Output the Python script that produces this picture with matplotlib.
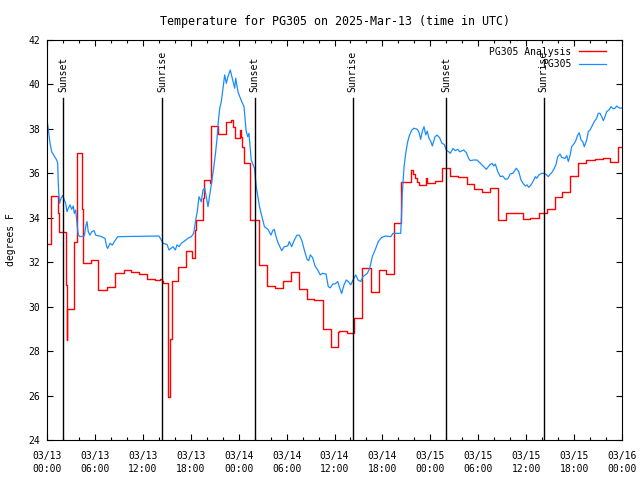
import matplotlib
matplotlib.use("Agg")
import matplotlib.pyplot as plt
import matplotlib.dates as mdates
import pandas as pd

start = pd.Timestamp("2025-03-13 00:00")

# observed station temperature, hours since start / degrees F
obs_hours = [0.0, 0.16, 0.38, 0.59, 0.88, 1.21, 1.34, 1.41, 1.50, 1.59, 1.75, 1.97, 2.17, 2.34, 2.50,
             2.67, 2.88, 3.09, 3.29, 3.42, 3.59, 3.72, 3.79, 3.92, 4.13, 4.67, 4.85, 5.01, 5.17, 5.38,
             5.60, 5.89, 6.10, 6.85, 7.26, 7.48, 7.60, 7.89, 8.18, 8.43, 8.85, 14.02, 14.31, 14.53,
             15.03, 15.28, 15.78, 16.07, 16.28, 16.53, 16.82, 17.24, 17.66, 18.07, 18.37, 18.62, 18.82,
             19.03, 19.32, 19.53, 19.75, 20.16, 20.37, 20.57, 20.87, 21.12, 21.29, 21.45, 21.63, 21.83,
             22.04, 22.25, 22.45, 22.66, 22.95, 23.20, 23.50, 23.63, 23.92, 24.08, 24.38, 24.67, 24.92,
             25.13, 25.29, 25.57, 25.98, 26.20, 26.41, 26.61, 26.91, 27.23, 27.66, 28.05, 28.26, 28.46,
             28.68, 28.96, 29.39, 29.71, 30.14, 30.34, 30.64, 30.97, 31.31, 31.59, 31.89, 32.22, 32.56,
             32.77, 32.97, 33.27, 33.56, 33.90, 34.22, 34.52, 34.94, 35.22, 35.47, 35.78, 36.06, 36.40,
             36.81, 36.90, 37.19, 37.48, 37.73, 38.03, 38.32, 38.66, 38.94, 39.28, 39.57, 40.11, 40.41,
             40.73, 41.16, 41.48, 41.91, 42.41, 43.04, 43.33, 44.29, 44.42, 44.49, 44.71, 44.92, 45.12,
             45.33, 45.67, 45.96, 46.37, 46.58, 46.79, 46.99, 47.21, 47.42, 47.62, 47.83, 48.05, 48.25,
             48.59, 48.84, 49.17, 49.46, 49.75, 50.00, 50.30, 50.50, 50.84, 51.13, 51.43, 51.68, 52.18,
             52.50, 52.80, 53.00, 53.43, 53.84, 54.18, 54.47, 55.01, 55.43, 55.72, 55.94, 56.14, 56.44,
             56.76, 57.06, 57.39, 57.69, 58.01, 58.35, 58.77, 59.07, 59.35, 59.61, 59.89, 60.11, 60.32,
             60.61, 60.95, 61.15, 61.32, 61.61, 61.95, 62.27, 62.57, 62.77, 62.98, 63.20, 63.52, 63.74,
             63.95, 64.24, 64.45, 64.86, 65.08, 65.28, 65.49, 65.70, 66.03, 66.24, 66.45, 66.65, 66.87,
             67.08, 67.28, 67.58, 67.78, 68.00, 68.21, 68.53, 68.83, 69.03, 69.25, 69.46, 69.66, 69.87,
             70.09, 70.37, 70.62, 70.92, 71.13, 71.34, 71.54, 71.75, 72.0]
obs_temp = [38.4, 38.0, 37.35, 36.97, 36.8, 36.6, 36.45, 35.55, 34.95, 34.65, 34.88, 35.0, 34.8, 34.65, 34.28,
            34.43, 34.58, 34.38, 34.53, 34.2, 34.35, 33.9, 33.6, 33.23, 33.15, 33.18, 33.6, 33.83, 33.37, 33.22,
            33.37, 33.42, 33.22, 33.15, 33.07, 32.7, 32.62, 32.85, 32.77, 32.93, 33.15, 33.18, 33.0, 32.85,
            32.8, 32.55, 32.7, 32.55, 32.78, 32.7, 32.85, 32.96, 33.08, 33.15, 33.3, 33.9, 34.28,
            34.95, 34.72, 35.25, 35.33, 34.5, 35.02, 35.48, 36.23, 36.97, 37.57, 38.33, 38.93, 39.23,
            39.83, 40.43, 40.05, 40.35, 40.65, 40.28, 39.83, 40.28, 39.67, 39.5, 39.23, 39.0, 37.95,
            37.65, 37.8, 36.6, 36.23, 35.4, 34.95, 34.5, 34.05, 33.6, 33.48, 33.22, 33.42, 33.48,
            33.15, 32.85, 32.52, 32.7, 32.73, 32.93, 32.7, 33.0, 33.22, 33.22, 33.0, 32.55, 32.13,
            32.07, 32.33, 32.2, 31.83, 31.65, 31.43, 31.5, 31.47, 30.9, 30.85, 31.02, 31.02, 31.13,
            30.67, 30.6, 30.98, 31.2, 31.13, 30.98, 31.2, 31.43, 31.2, 31.13, 31.35, 31.5, 31.73,
            32.25, 32.62, 32.93, 33.12, 33.18, 33.15, 33.3, 33.3, 34.35, 35.1, 36.3, 36.9, 37.35,
            37.65, 37.95, 38.03, 37.98, 37.85, 37.53, 37.88, 38.1, 37.73, 37.9, 37.57, 37.45, 37.23,
            37.65, 37.72, 37.6, 37.35, 37.3, 37.05, 36.97, 36.9, 37.12, 37.02, 37.08, 36.97, 37.05,
            36.93, 36.67, 36.57, 36.6, 36.6, 36.48, 36.38, 36.18, 36.38, 36.45, 36.33, 36.42, 36.08,
            35.85, 35.88, 35.73, 35.75, 35.97, 36.0, 36.23, 36.08, 35.7, 35.55, 35.43, 35.48, 35.37,
            35.48, 35.7, 35.85, 35.78, 35.93, 36.0, 36.0, 35.93, 35.85, 35.95, 36.03, 36.22, 36.4,
            36.75, 36.87, 36.72, 36.67, 36.8, 36.53, 36.8, 37.2, 37.35, 37.5, 37.72, 37.83, 37.5,
            37.43, 37.2, 37.5, 37.88, 37.95, 38.1, 38.33, 38.48, 38.7, 38.7, 38.55, 38.37, 38.55,
            38.78, 38.85, 39.0, 38.9, 38.93, 39.03, 38.97, 38.93, 38.95]

# analysis temperature (held until next change)
ana_hours = [0.0, 0.5, 1.41, 1.50, 2.34, 2.47, 2.54, 3.34, 3.42, 3.72, 3.76, 4.42, 4.55, 5.47, 6.42,
             7.48, 8.51, 9.64, 10.52, 11.56, 12.52, 13.56, 14.19, 14.40, 14.53, 15.15, 15.44, 15.65,
             16.44, 17.44, 18.19, 18.50, 18.70, 19.50, 19.66, 20.37, 20.57, 21.41, 22.41, 22.98, 23.35,
             23.54, 24.17, 24.29, 24.45, 24.63, 25.42, 26.55, 27.55, 28.55, 29.51, 30.55, 31.59, 32.56,
             33.47, 34.52, 35.56, 36.40, 36.60, 37.60, 38.44, 39.48, 40.51, 41.51, 42.45, 43.51, 44.33,
             45.58, 45.83, 46.08, 46.33, 46.58, 47.40, 47.58, 48.59, 49.46, 50.52, 51.46, 52.59, 53.47,
             54.53, 55.47, 56.47, 57.48, 59.61, 60.42, 61.55, 62.57, 63.61, 64.49, 65.49, 66.49, 67.55,
             68.56, 69.56, 70.50, 71.50, 72.0]
ana_temp = [32.82, 35.0, 34.2, 33.37, 30.97, 28.5, 29.9, 31.5, 32.9, 35.56, 36.9, 34.4, 31.96, 32.1, 30.75,
            30.9, 31.53, 31.63, 31.55, 31.48, 31.24, 31.2, 31.25, 31.15, 31.05, 25.95, 28.55, 31.17,
            31.8, 32.5, 32.2, 33.45, 33.9, 34.88, 35.7, 35.55, 38.13, 37.77, 38.3, 38.4, 38.1,
            37.6, 37.95, 37.65, 37.2, 36.45, 33.9, 31.87, 30.93, 30.84, 31.14, 31.57, 30.78, 30.33,
            30.3, 28.98, 28.2, 28.87, 28.9, 28.8, 29.5, 31.73, 30.65, 31.63, 31.47, 33.75, 35.6,
            36.15, 35.95, 35.8, 35.6, 35.48, 35.78, 35.55, 35.65, 36.22, 35.88, 35.82, 35.5, 35.28,
            35.16, 35.33, 33.9, 34.23, 33.96, 34.0, 34.2, 34.4, 34.92, 35.15, 35.88, 36.48, 36.6,
            36.64, 36.69, 36.51, 37.17, 37.17]

sun_hours = [2.0, 14.4, 26.0, 38.3, 50.0, 62.2]
sun_labels = ["Sunset", "Sunrise", "Sunset", "Sunrise", "Sunset", "Sunrise"]

plt.rcParams["font.family"] = ["DejaVu Sans Mono"]
plt.rcParams["font.size"] = 7

fig = plt.figure(figsize=(6.4, 4.8), dpi=100)
ax = fig.add_axes([47 / 640, 40 / 480, 575 / 640, 400 / 480])

ana_t = start + pd.to_timedelta(ana_hours, unit="h")
obs_t = start + pd.to_timedelta(obs_hours, unit="h")
ax.plot(ana_t, ana_temp, color="#ff0000", lw=1.0, drawstyle="steps-post", label="PG305 Analysis")
ax.plot(obs_t, obs_temp, color="#1a8cff", lw=0.9, label="PG305")

for h, lab in zip(sun_hours, sun_labels):
	t = start + pd.Timedelta(hours=h)
	ax.plot([t, t], [24, 39.4], color="black", lw=1.0)
	ax.text(t, 39.65, lab, rotation=90, ha="center", va="bottom")

ax.set_xlim(start, start + pd.Timedelta(hours=72))
ax.set_ylim(24, 42)
ax.set_yticks(range(24, 43, 2))
ax.xaxis.set_major_locator(mdates.HourLocator(byhour=range(0, 24, 6)))
ax.xaxis.set_minor_locator(mdates.HourLocator(byhour=range(0, 24, 2)))
ax.xaxis.set_major_formatter(mdates.DateFormatter("%m/%d\n%H:%M"))
ax.tick_params(which="both", direction="in", top=True, right=True, width=0.8)
ax.tick_params(which="major", length=4.5, pad=5)
ax.tick_params(axis="x", which="major", pad=8)
ax.tick_params(which="minor", length=2.5)
for lbl in ax.get_xticklabels():
	lbl.set_linespacing(1.35)
for s in ax.spines.values():
	s.set_linewidth(0.8)

ax.set_ylabel("degrees F", labelpad=9)
ax.set_title("Temperature for PG305 on 2025-Mar-13 (time in UTC)", pad=11)
ax.legend(loc="upper right", bbox_to_anchor=(1 - 9 / 575, 1), frameon=False, markerfirst=False,
	handlelength=2.8, handletextpad=0.8, borderaxespad=0.5, borderpad=0.2, labelspacing=0.25)

fig.savefig("out.png", dpi=100)
